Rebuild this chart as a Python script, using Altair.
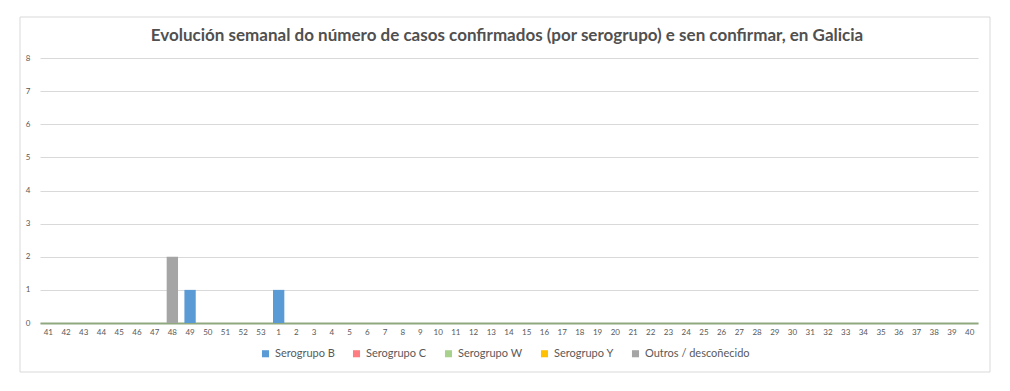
import altair as alt
import pandas as pd

weeks = [str(w) for w in range(41, 54)] + [str(w) for w in range(1, 41)]
series = ["Serogrupo B", "Serogrupo C", "Serogrupo W", "Serogrupo Y", "Outros / descoñecido"]
colors = ["#5b9bd5", "#ff7c80", "#a9d18e", "#ffc000", "#a5a5a5"]

serogrupo_b = {"49": 1, "1": 1}
serogrupo_c = {}
serogrupo_w = {}
serogrupo_y = {}
outros = {"48": 2}

title_text = "Evolución semanal do número de casos confirmados (por serogrupo) e sen confirmar, en Galicia"

rows = []
for name, d in zip(series, [serogrupo_b, serogrupo_c, serogrupo_w, serogrupo_y, outros]):
    for w in weeks:
        rows.append({"semana": w, "serie": name, "casos": d.get(w, 0)})
df = pd.DataFrame(rows)

FONT = "Lato"
W, H = 938, 265

bars = alt.Chart(df).mark_bar().encode(
    x=alt.X("semana:N", sort=weeks, title=None,
            scale=alt.Scale(paddingInner=0.36, paddingOuter=0.15),
            axis=alt.Axis(labelAngle=0, labelFontSize=8, labelColor="#595959", ticks=False,
                          domainColor="#8fa87e", domainWidth=2, labelPadding=5, labelFont=FONT)),
    y=alt.Y("casos:Q", stack="zero", title=None,
            scale=alt.Scale(domain=[0, 8]),
            axis=alt.Axis(values=list(range(0, 9)), labelFontSize=8, labelColor="#595959",
                          ticks=False, domain=False, gridColor="#d9d9d9", labelPadding=10,
                          labelFont=FONT)),
    color=alt.Color("serie:N", sort=series,
                    scale=alt.Scale(domain=series, range=colors),
                    legend=alt.Legend(title=None, orient="none", direction="horizontal",
                                      legendX=220, legendY=290,
                                      symbolType="square", symbolSize=50, symbolStrokeWidth=0,
                                      labelFontSize=11, labelColor="#595959", labelFont=FONT,
                                      columnPadding=16, symbolOffset=0)),
)

frame = alt.Chart(pd.DataFrame({"a": [0]})).mark_rect(fill=None, stroke="#d9d9d9", strokeWidth=1).encode(
    x=alt.value(-20), x2=alt.value(950), y=alt.value(-41), y2=alt.value(314)
)

title = alt.Chart(pd.DataFrame({"t": [title_text]})).mark_text(
    font=FONT, fontSize=17, fontWeight="bold", color="#505050", align="center", baseline="middle"
).encode(text="t:N", x=alt.value(W / 2 - 2), y=alt.value(-22))

chart = alt.layer(frame, title, bars).properties(
    width=W, height=H,
    autosize=alt.AutoSizeParams(type="none"),
    padding={"left": 32, "top": 50, "right": 24, "bottom": 60},
).configure_view(stroke=None)

chart.save("out.html", embed_options={"renderer": "svg", "actions": False})
